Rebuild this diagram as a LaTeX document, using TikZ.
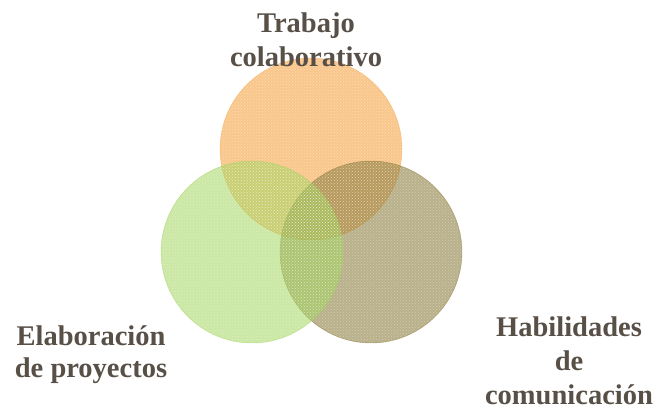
\documentclass[tikz,border=0pt]{standalone}
\usepackage{fontspec}
\setmainfont{Liberation Serif}
\usepackage{tikz}
\usetikzlibrary{patterns}

\definecolor{textgray}{RGB}{88,79,71}
\definecolor{trabajo}{RGB}{245,165,70}
\definecolor{elabora}{RGB}{160,212,90}
\definecolor{habil}{RGB}{135,120,55}

\begin{document}
\begin{tikzpicture}[x=1pt, y=-1pt]
    \useasboundingbox (0, 0) rectangle (656, 410);
    \coordinate (C1) at (311, 149);
    \coordinate (C2) at (252, 252);
    \coordinate (C3) at (371, 252);

%1 orange
%2 green
%3 olive

    \fill[trabajo, opacity=0.62] (C1) circle (91); % top
    \draw[trabajo, opacity=0.5, thin] (C1) circle (91);
    \fill[habil, opacity=0.58] (C3) circle (91); % right
    \draw[habil, opacity=0.6, thin] (C3) circle (91);
    \fill[elabora, opacity=0.55] (C2) circle (91); % left
    \draw[elabora, opacity=0.6, thin] (C2) circle (91);

    % texture
    \fill[pattern=crosshatch dots, pattern color=white, opacity=0.35] (C1) circle (90);
    \fill[pattern=crosshatch dots, pattern color=white, opacity=0.35] (C2) circle (90);
    \fill[pattern=crosshatch dots, pattern color=white, opacity=0.35] (C3) circle (90);

    \node[text=textgray, font=\fontsize{28.5}{33.5}\selectfont\bfseries, align=center, anchor=base] (T1) at (306, 66) {Trabajo\\colaborativo};
    \node[text=textgray, font=\fontsize{28.5}{32}\selectfont\bfseries, align=center, anchor=base] (T2) at (91, 377) {Elaboración\\de proyectos};
    \node[text=textgray, font=\fontsize{28.5}{34}\selectfont\bfseries, align=center, anchor=base] (T3) at (569, 404) {Habilidades\\de\\comunicación};

\end{tikzpicture}
\end{document}
